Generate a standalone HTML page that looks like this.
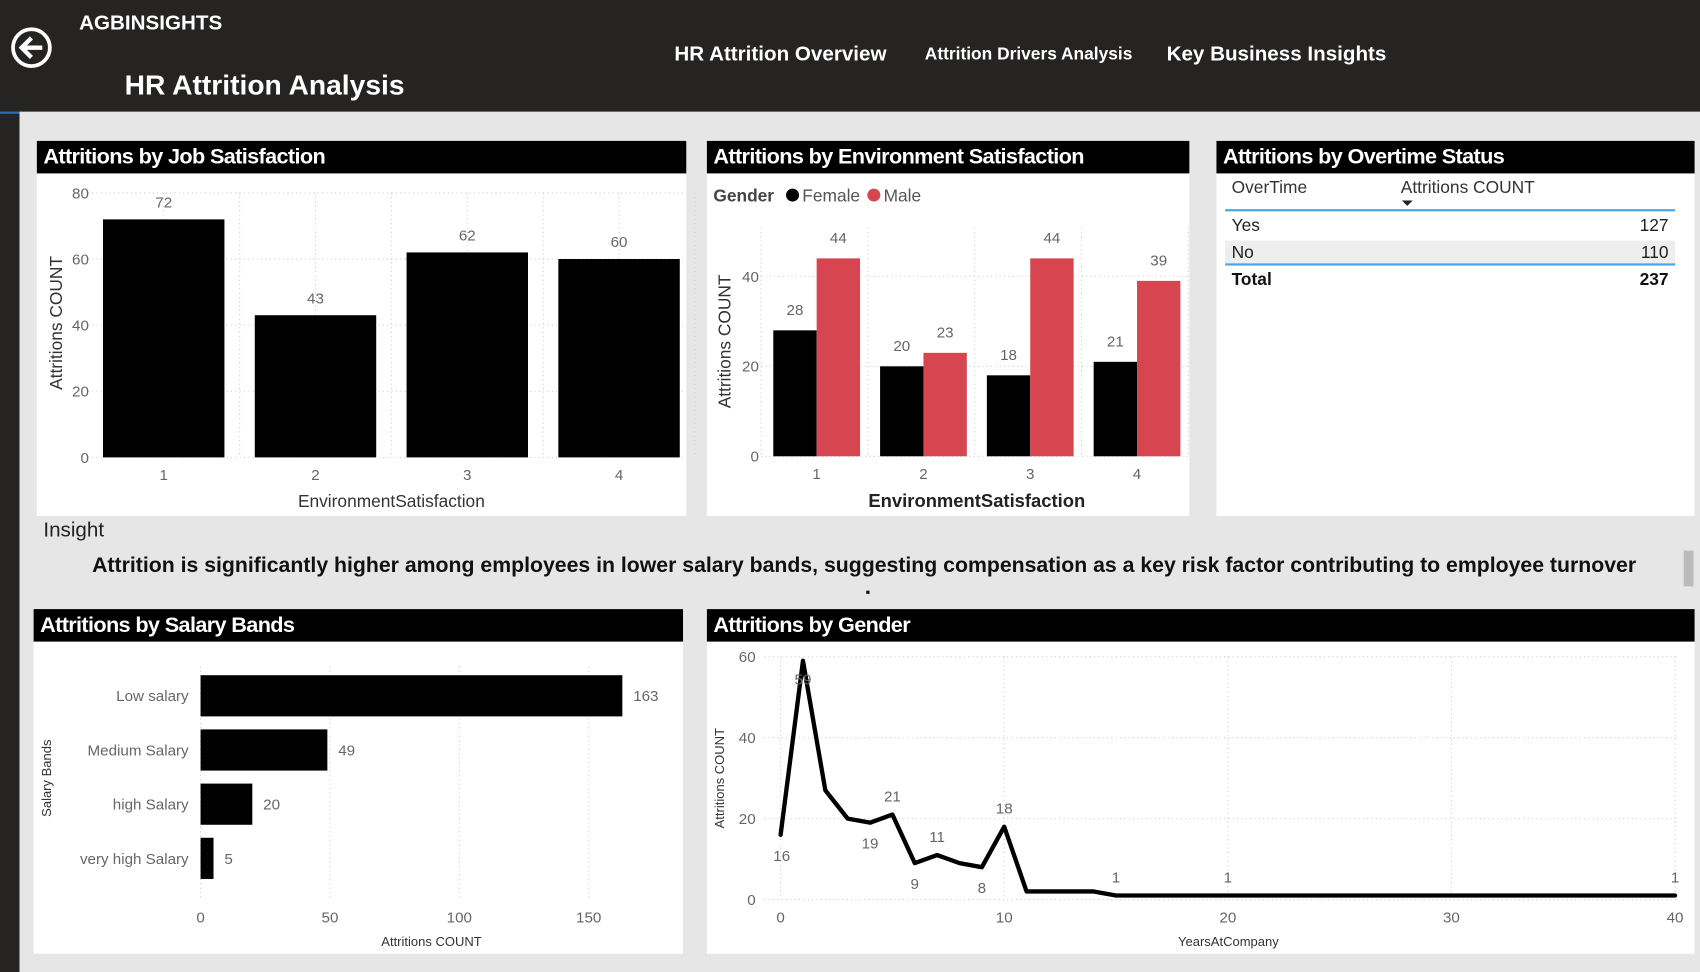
<!DOCTYPE html>
<html><head><meta charset="utf-8"><style>
body{margin:0;width:1700px;height:970px;overflow:hidden;background:#e6e6e6;font-family:"Liberation Sans",sans-serif}
#root{position:absolute;left:0;top:0;width:1568px;height:895px;transform:scale(1.08418,1.08380);transform-origin:0 0;background:#e6e6e6}
.abs{position:absolute}
.panel{position:absolute;background:#fff}
.tbar{position:absolute;left:0;top:0;right:0;height:30px;background:#000;color:#fff;font-family:"Liberation Sans Narrow","Liberation Sans",sans-serif;font-weight:bold;font-size:20px;line-height:30px;padding-left:6px;box-sizing:border-box;letter-spacing:-0.6px}
svg text{font-family:"Liberation Sans",sans-serif}
</style></head><body>
<div id="root">
<div class="abs" style="left:0;top:0;width:1568px;height:103px;background:#252423"></div>
<div class="abs" style="left:0;top:103px;width:18px;height:792px;background:#252423;border-top:2px solid #2b6cb0"></div>
<svg class="abs" style="left:9px;top:24px" width="40" height="40"><circle cx="20" cy="20" r="17" fill="none" stroke="#fff" stroke-width="3.5"/><path d="M30 20H12M20 11l-9 9 9 9" fill="none" stroke="#fff" stroke-width="4"/></svg>
<div class="abs" style="left:73px;top:11px;color:#fff;font-weight:bold;font-size:19px">AGBINSIGHTS</div>
<div class="abs" style="left:115px;top:63px;color:#fff;font-weight:bold;font-size:26px">HR Attrition Analysis</div>
<div class="abs" style="left:622px;top:40px;color:#fff;font-weight:bold;font-size:19px">HR Attrition Overview</div>
<div class="abs" style="left:853px;top:42px;color:#fff;font-weight:bold;font-size:16px">Attrition Drivers Analysis</div>
<div class="abs" style="left:1076px;top:40px;color:#fff;font-weight:bold;font-size:19px">Key Business Insights</div>

<div class="panel" style="left:34px;top:130px;width:599px;height:346px"><div class="tbar">Attritions by Job Satisfaction</div></div>
<div class="panel" style="left:652px;top:130px;width:445px;height:346px"><div class="tbar">Attritions by Environment Satisfaction</div></div>
<div class="panel" style="left:1122px;top:130px;width:441px;height:346px"><div class="tbar">Attritions by Overtime Status</div>
 <div class="abs" style="left:14px;top:35px;font-size:16px;color:#333">OverTime</div>
 <div class="abs" style="left:170px;top:35px;font-size:16px;color:#333">Attritions COUNT</div>
 <div class="abs" style="left:171px;top:55px;width:0;height:0;border-left:5px solid transparent;border-right:5px solid transparent;border-top:5px solid #222"></div>
 <div class="abs" style="left:8px;top:63px;width:415px;height:2px;background:#4aa3e8"></div>
 <div class="abs" style="left:14px;top:70px;font-size:16px;color:#222">Yes</div>
 <div class="abs" style="left:370px;top:70px;width:47px;text-align:right;font-size:16px;color:#222">127</div>
 <div class="abs" style="left:8px;top:92px;width:415px;height:21px;background:#eeeeee"></div>
 <div class="abs" style="left:14px;top:95px;font-size:16px;color:#222">No</div>
 <div class="abs" style="left:370px;top:95px;width:47px;text-align:right;font-size:16px;color:#222">110</div>
 <div class="abs" style="left:8px;top:113px;width:415px;height:2px;background:#4aa3e8"></div>
 <div class="abs" style="left:14px;top:120px;font-size:16px;font-weight:bold;color:#111">Total</div>
 <div class="abs" style="left:370px;top:120px;width:47px;text-align:right;font-size:16px;font-weight:bold;color:#111">237</div>
</div>

<div class="abs" style="left:40px;top:479px;font-size:19px;color:#222">Insight</div>
<div class="abs" style="left:20px;top:511px;width:1554px;text-align:center;font-size:19.6px;font-weight:bold;color:#111">Attrition is significantly higher among employees in lower salary bands, suggesting compensation as a key risk factor contributing to employee turnover</div>
<div class="abs" style="left:799px;top:545px;width:3px;height:3px;background:#111"></div>
<div class="abs" style="left:1553px;top:508px;width:9px;height:33px;background:#bbb"></div>

<div class="panel" style="left:31px;top:562px;width:599px;height:318px"><div class="tbar">Attritions by Salary Bands</div></div>
<div class="panel" style="left:652px;top:562px;width:911px;height:318px"><div class="tbar">Attritions by Gender</div></div>

<svg id="chart" class="abs" style="left:0;top:0" width="1568" height="895"></svg>
</div>
<script>
// Job satisfaction
const jobCats=["1","2","3","4"];
const jobVals=[72,43,62,60];
const jobTicks=[0,20,40,60,80];
// Environment
const envCats=["1","2","3","4"];
const envFemale=[28,20,18,21];
const envMale=[44,23,44,39];
const envTicks=[0,20,40];
// Salary
const salCats=["Low salary","Medium Salary","high Salary","very high Salary"];
const salVals=[163,49,20,5];
const salTicks=[0,50,100,150];
// Years line
const yrsX=[0,1,2,3,4,5,6,7,8,9,10,11,12,13,14,15,20,40];
const yrsY=[16,59,27,20,19,21,9,11,9,8,18,2,2,2,2,1,1,1];
const yrsLabels=[16,59,null,null,19,21,9,11,null,8,18,null,null,null,null,1,1,1];
const yrsTicksX=[0,10,20,30,40];
const yrsTicksY=[0,20,40,60];

const svg=document.getElementById('chart');
const NS='http://www.w3.org/2000/svg';
function mk(tag,at,txt){const e=document.createElementNS(NS,tag);for(const k in at)e.setAttribute(k,at[k]);if(txt!==undefined)e.textContent=txt;svg.appendChild(e);return e;}
function grid(x1,y1,x2,y2){return mk('line',{x1,y1,x2,y2,stroke:'#ccc','stroke-dasharray':'1 3'});}

// Job chart
(function(){
 const y=v=>422-v*(244/80), x0=81,bw=140,x1=x0+bw*jobCats.length;
 jobTicks.forEach(t=>{grid(x0,y(t),631,y(t));const e=mk('text',{x:82,y:y(t)+5,'text-anchor':'end','font-size':14,fill:'#666'},t);});
 jobCats.forEach((c,i)=>{const cx=x0+bw*(i+0.5);grid(cx,178,cx,422);grid(x0+bw*(i+1),178,x0+bw*(i+1),422);});
 jobCats.forEach((c,i)=>{const cx=x0+bw*(i+0.5);
  const r=mk('rect',{x:cx-56,y:y(jobVals[i]),width:112,height:y(0)-y(jobVals[i]),fill:'#000'});
  
  mk('text',{x:cx,y:y(jobVals[i])-11,'text-anchor':'middle','font-size':14,fill:'#666'},jobVals[i]);
  const t=mk('text',{x:cx,y:443,'text-anchor':'middle','font-size':14,fill:'#666'},c);});
 const a=mk('text',{x:361,y:468,'text-anchor':'middle','font-size':16,fill:'#333'},'EnvironmentSatisfaction');
 const b=mk('text',{x:57,y:298,'text-anchor':'middle','font-size':16,fill:'#333',transform:'rotate(-90 57 298)'},'Attritions COUNT');
})();

// Env chart
(function(){
 const y=v=>421-v*(166/40), x0=702,x1=1096,bw=(x1-x0)/envCats.length;
 mk('text',{x:658,y:186,'font-size':16,'font-weight':'bold',fill:'#444'},'Gender');
 mk('circle',{cx:731,cy:180,r:6,fill:'#000'});mk('text',{x:740,y:186,'font-size':16,fill:'#555'},'Female');
 mk('circle',{cx:806,cy:180,r:6,fill:'#d64550'});mk('text',{x:815,y:186,'font-size':16,fill:'#555'},'Male');
 envTicks.forEach(t=>{grid(x0,y(t),x1,y(t));mk('text',{x:700,y:y(t)+5,'text-anchor':'end','font-size':14,fill:'#666'},t);});
 [0,1,2,3,4].forEach(i=>grid(x0+bw*i,210,x0+bw*i,421));
 envCats.forEach((c,i)=>{const cx=x0+bw*(i+0.5)+2;
  const f=mk('rect',{x:cx-40,y:y(envFemale[i]),width:40,height:y(0)-y(envFemale[i]),fill:'#000'});
  const m=mk('rect',{x:cx,y:y(envMale[i]),width:40,height:y(0)-y(envMale[i]),fill:'#d64550'});
  mk('text',{x:cx-20,y:y(envFemale[i])-14,'text-anchor':'middle','font-size':14,fill:'#666'},envFemale[i]);
  mk('text',{x:cx+20,y:y(envMale[i])-14,'text-anchor':'middle','font-size':14,fill:'#666'},envMale[i]);
  mk('text',{x:cx,y:442,'text-anchor':'middle','font-size':14,fill:'#666'},c);});
 mk('text',{x:901,y:468,'text-anchor':'middle','font-size':17,'font-weight':'bold',fill:'#222'},'EnvironmentSatisfaction');
 mk('text',{x:674,y:315,'text-anchor':'middle','font-size':16,fill:'#333',transform:'rotate(-90 674 315)'},'Attritions COUNT');
})();

// Salary chart
(function(){
 const x=v=>185+v*(358/150);
 salTicks.forEach(t=>{grid(x(t),615,x(t),830);mk('text',{x:x(t),y:851,'text-anchor':'middle','font-size':14,fill:'#666'},t);});
 salCats.forEach((c,i)=>{const cy=642+i*50;
  const r=mk('rect',{x:185,y:cy-19,width:x(salVals[i])-185,height:38,fill:'#000'});
  mk('text',{x:x(salVals[i])+10,y:cy+5,'font-size':14,fill:'#666'},salVals[i]);
  mk('text',{x:174,y:cy+5,'text-anchor':'end','font-size':14,fill:'#666'},c);});
 mk('text',{x:398,y:873,'text-anchor':'middle','font-size':12,fill:'#333'},'Attritions COUNT');
 mk('text',{x:47,y:718,'text-anchor':'middle','font-size':12,fill:'#333',transform:'rotate(-90 47 718)'},'Salary Bands');
})();

// Years line chart
(function(){
 const x=v=>720+v*(825/40), y=v=>830-v*(224/60);
 yrsTicksY.forEach(t=>{grid(705,y(t),1548,y(t));mk('text',{x:697,y:y(t)+5,'text-anchor':'end','font-size':14,fill:'#666'},t);});
 yrsTicksX.forEach(t=>{grid(x(t),606,x(t),830);mk('text',{x:x(t),y:851,'text-anchor':'middle','font-size':14,fill:'#666'},t);});
 const p=mk('polyline',{points:yrsX.map((v,i)=>x(v)+','+y(yrsY[i])).join(' '),fill:'none',stroke:'#000','stroke-width':4,'stroke-linejoin':'round','stroke-linecap':'round'});
 
 const below={0:1,1:1,4:1,6:1,9:1};
 yrsX.forEach((v,i)=>{if(yrsLabels[i]==null)return;const dy=below[i]?(i==1?22:24):-12;
  mk('text',{x:x(v)+(i==0?1:0),y:y(yrsY[i])+dy,'text-anchor':'middle','font-size':14,fill:'#666'},yrsLabels[i]);});
 mk('text',{x:1133,y:873,'text-anchor':'middle','font-size':12,fill:'#333'},'YearsAtCompany');
 mk('text',{x:668,y:718,'text-anchor':'middle','font-size':12,fill:'#333',transform:'rotate(-90 668 718)'},'Attritions COUNT');
})();
</script>
</body></html>
